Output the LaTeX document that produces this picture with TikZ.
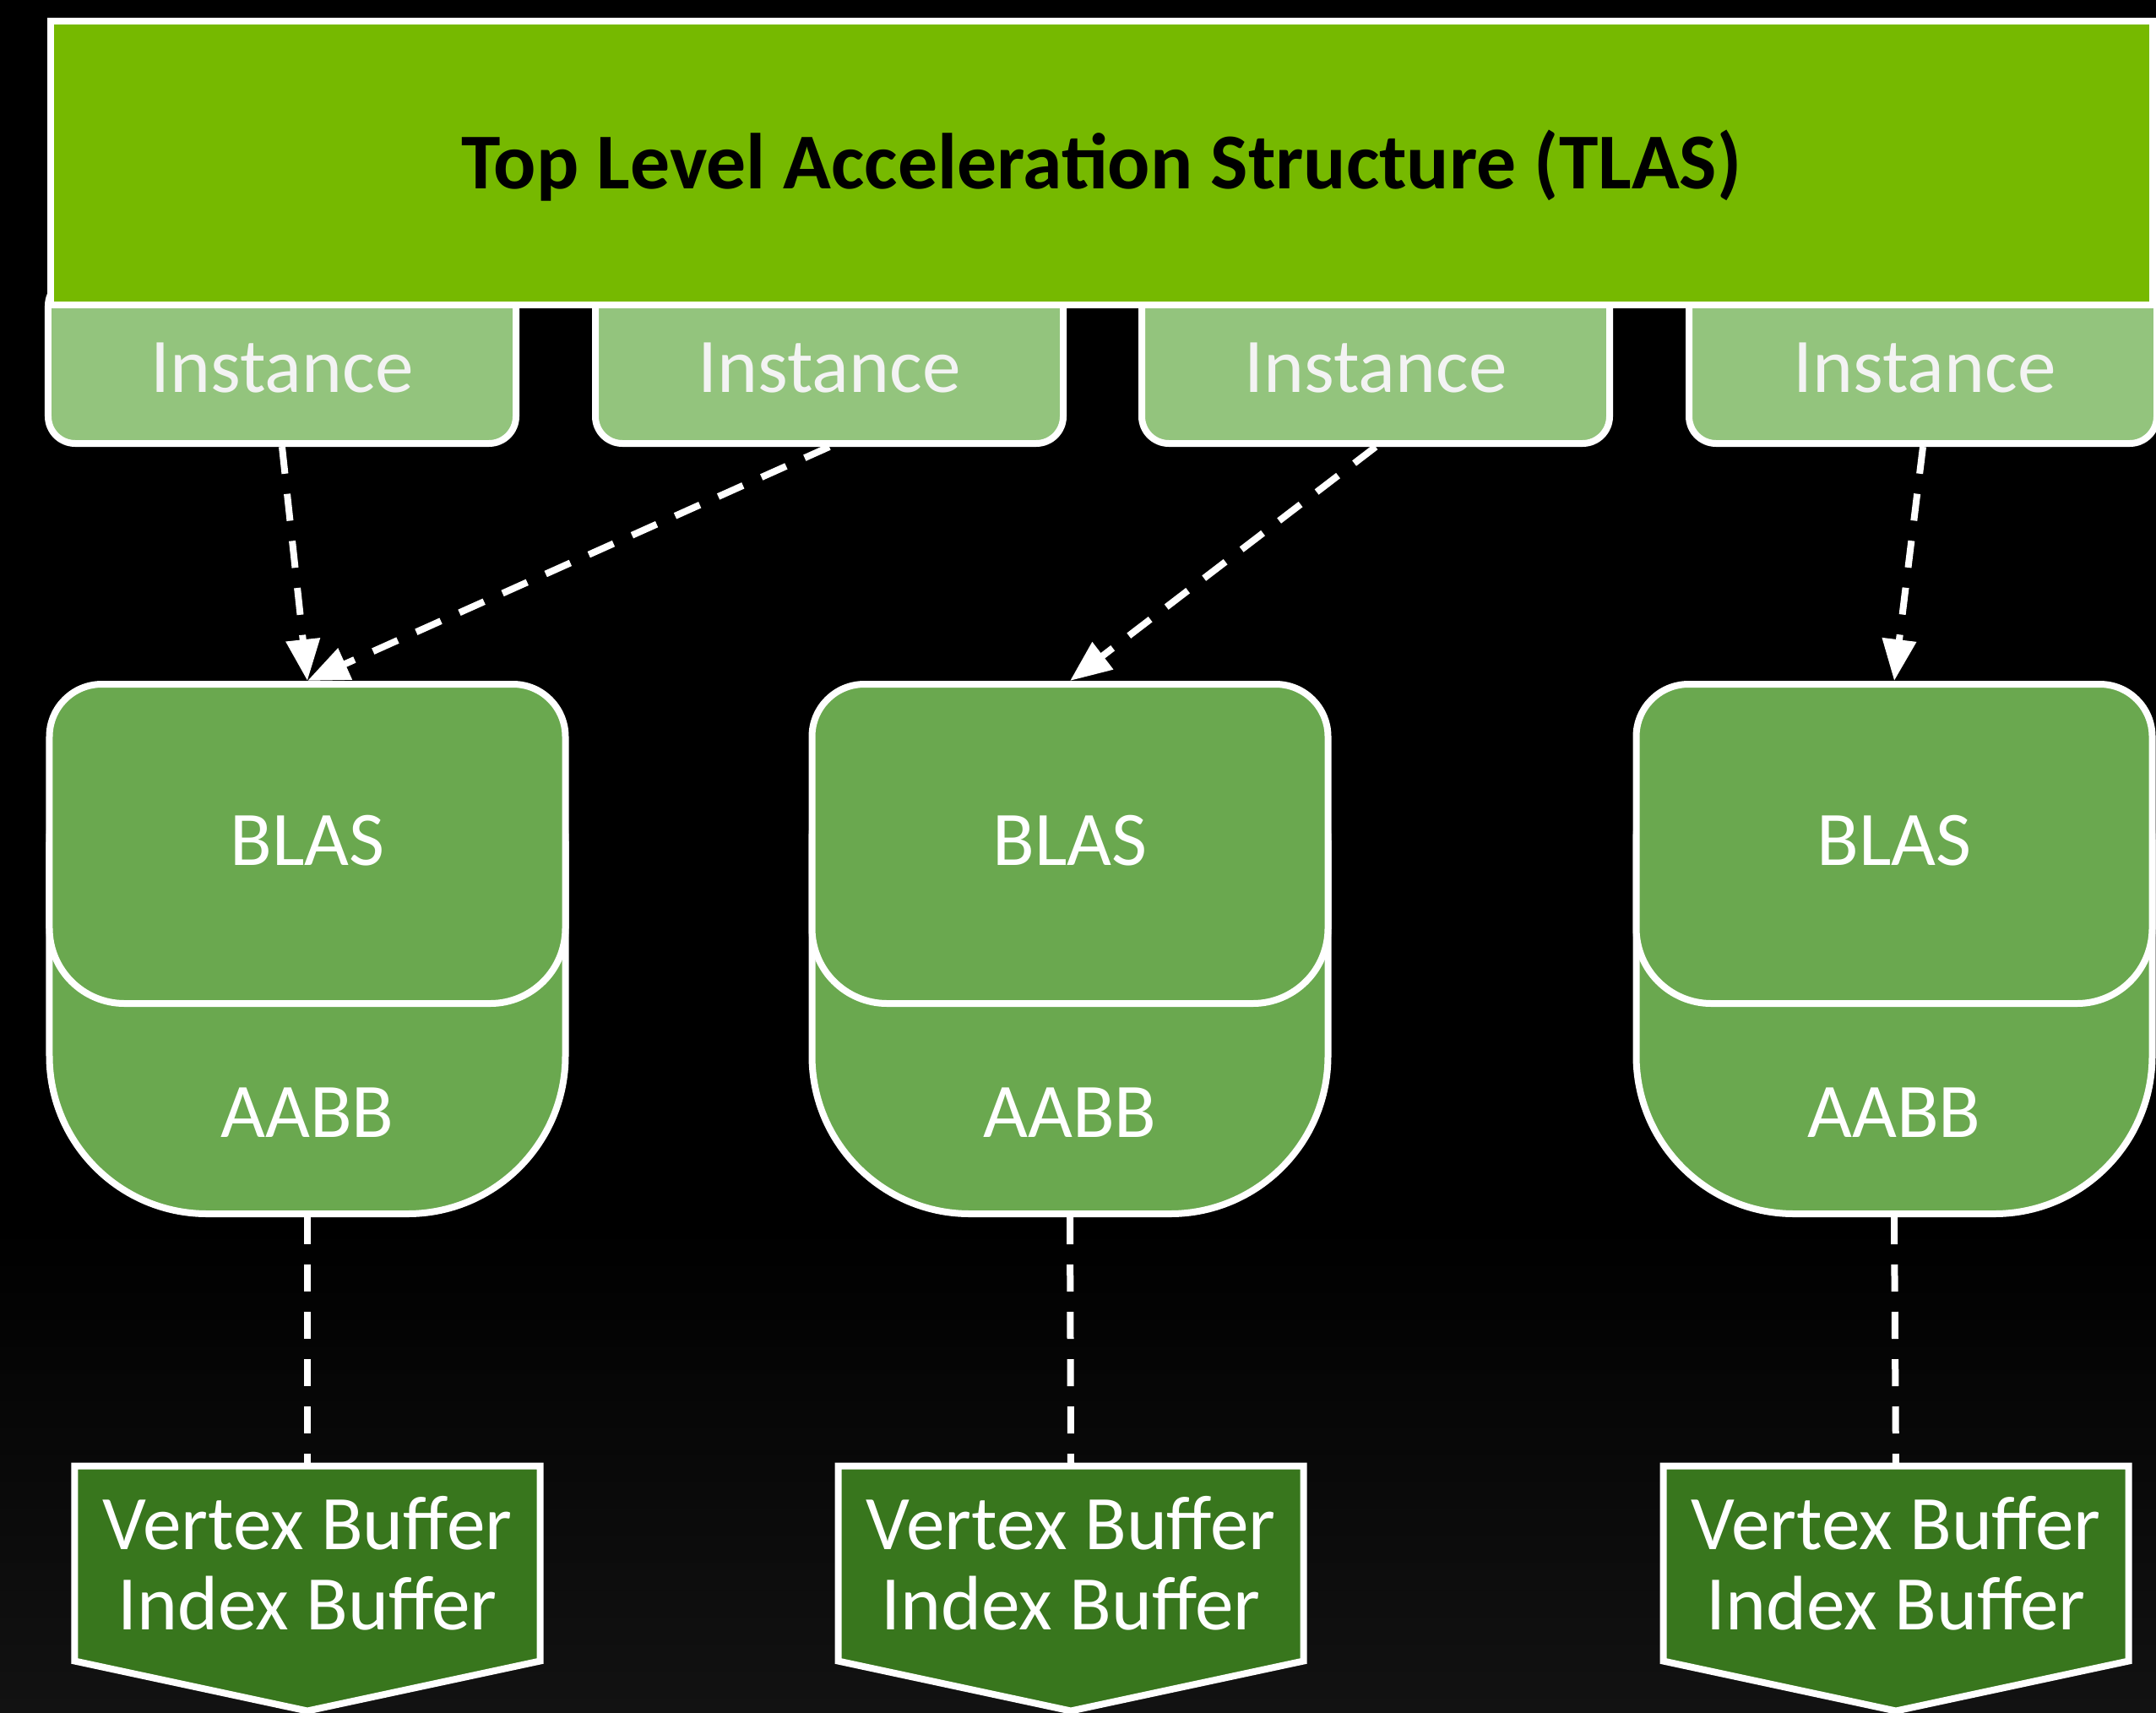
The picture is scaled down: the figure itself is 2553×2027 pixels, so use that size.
\documentclass[tikz,border=0pt]{standalone}
\usepackage{fontspec}
\setmainfont{Carlito}
\usetikzlibrary{arrows.meta}

\definecolor{tlasgreen}{HTML}{76B900}
\definecolor{instgreen}{HTML}{93C47D}
\definecolor{blasgreen}{HTML}{6AA84F}
\definecolor{bufgreen}{HTML}{38761D}
\definecolor{insttext}{HTML}{F3F3F3}
\definecolor{floor}{HTML}{121212}

\tikzset{
  x=0.3mm, y=-0.3mm,
  box/.style={draw=white, line width=2.4mm},
  tlasbox/.style={box, fill=tlasgreen, inner sep=0pt,
    minimum width=746.7mm, minimum height=100.8mm},
  instbox/.style={box, fill=instgreen, inner sep=0pt, rounded corners=9.6mm,
    minimum width=166.2mm, minimum height=58.5mm},
  aabbbox/.style={box, fill=blasgreen, inner sep=0pt, rounded corners=56.1mm,
    minimum width=183.3mm, minimum height=188.1mm},
  blasframe/.style={inner sep=0pt, outer sep=0pt,
    minimum width=183.3mm, minimum height=113.4mm},
  bufframe/.style={inner sep=0pt, outer sep=0pt,
    minimum width=165.3mm, minimum height=69.3mm},
  txt/.style={inner sep=0pt, anchor=base, text=white,
    font=\fontsize{78}{80}\selectfont},
  link/.style={white, line width=2.4mm, dash pattern=on 9.6mm off 7.2mm},
  arrowlink/.style={link, -{Triangle[length=14.7mm, width=11.7mm]}},
}

% upper BLAS panel: smaller radius on top, larger at the bottom
\newcommand\blaspanel[1]{%
  \draw[box, fill=blasgreen]
    ([yshift=-18.6mm]#1.north west) arc[start angle=180, end angle=90, radius=18.6mm]
    -- ([xshift=-18.6mm]#1.north east) arc[start angle=90, end angle=0, radius=18.6mm]
    -- ([yshift=26.7mm]#1.south east) arc[start angle=0, end angle=-90, radius=26.7mm]
    -- ([xshift=26.7mm]#1.south west) arc[start angle=-90, end angle=-180, radius=26.7mm]
    -- cycle;}

% buffer flag: rectangle with a downward point
\newcommand\bufflag[1]{%
  \draw[box, fill=bufgreen]
    (#1.north west) -- (#1.north east) -- (#1.south east)
    -- ([yshift=-17.7mm]#1.south) -- (#1.south west) -- cycle;}

\begin{document}
\begin{tikzpicture}
  % canvas
  \useasboundingbox (0,0) rectangle (2553,2027);
  \fill[black] (0,0) rectangle (2553,2027);
  \shade[top color=black, bottom color=floor] (0,1450) rectangle (2553,2027);

  % instances sit under the TLAS bar
  \node[instbox] (i1) at (334,427.5) {};
  \node[instbox] (i2) at (982,427.5) {};
  \node[instbox] (i3) at (1629,427.5) {};
  \node[instbox] (i4) at (2277,427.5) {};

  % top level bar
  \node[tlasbox] (tlas) at (1304.5,193) {};

  % bottom level structures
  \foreach \n/\x in {1/364, 2/1267, 3/2243} {
    \node[aabbbox] (a\n) at (\x,1123.5) {};
    \node[blasframe] (b\n) at (\x,999) {};
    \blaspanel{b\n}
  }

  % geometry buffers
  \foreach \n/\x in {1/364, 2/1268, 3/2245} {
    \node[bufframe] (v\n) at (\x,1851) {};
    \bufflag{v\n}
  }

  % instance -> BLAS references
  \draw[arrowlink] (i1.south) -- ([yshift=1.2mm]b1.north);
  \draw[arrowlink] (i2.south) -- ([yshift=1.2mm]b1.north);
  \draw[arrowlink] (i3.south) -- ([yshift=1.2mm]b2.north);
  \draw[arrowlink] (i4.south) -- ([yshift=1.2mm]b3.north);

  % BLAS -> buffers
  \draw[link] (a1.south) -- (v1.north);
  \draw[link] (a2.south) -- (v2.north);
  \draw[link] (a3.south) -- (v3.north);

  % labels
  \node[txt, text=black, font=\fontsize{80}{82}\selectfont\bfseries] (tlast) at (1304.5,223)
    {Top Level Acceleration Structure (TLAS)};
  \node[txt, text=insttext] (i1t) at (334,464) {Instance};
  \node[txt, text=insttext] (i2t) at (982,464) {Instance};
  \node[txt, text=insttext] (i3t) at (1629,464) {Instance};
  \node[txt, text=insttext] (i4t) at (2279,464) {Instance};

  \foreach \n/\x in {1/364, 2/1267, 3/2243} {
    \node[txt] (b\n t) at (\x,1024) {BLAS};
    \node[txt] (a\n t) at (\x,1346) {AABB};
  }
  \foreach \n/\x in {1/364, 2/1268, 3/2245} {
    \node[txt] (v\n t) at (\x,1834) {Vertex Buffer};
    \node[txt] (v\n u) at (\x,1929) {Index Buffer};
  }
\end{tikzpicture}
\end{document}
